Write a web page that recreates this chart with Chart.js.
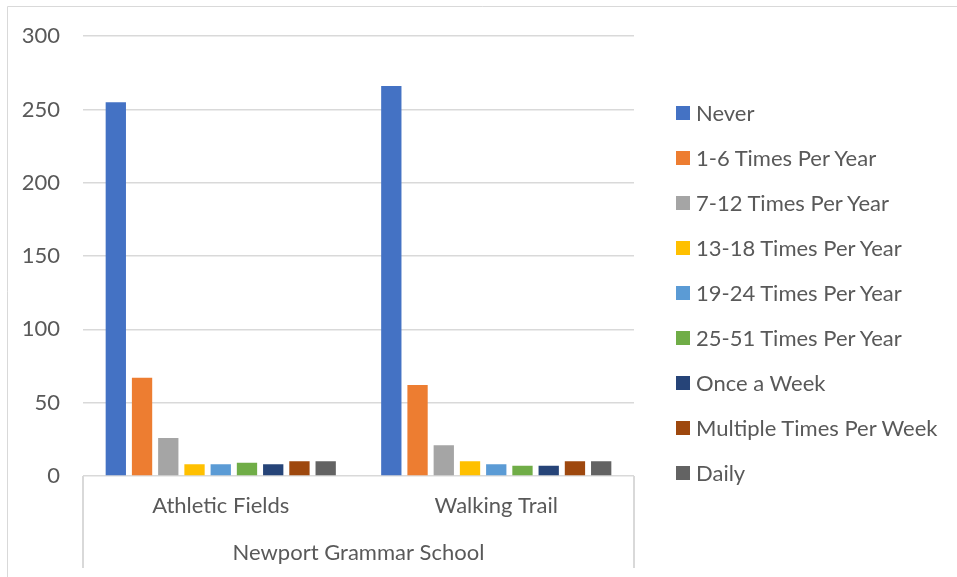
<!DOCTYPE html>
<html>
<head>
<meta charset="utf-8">
<script src="https://cdn.jsdelivr.net/npm/chart.js@4.4.1/dist/chart.umd.min.js"></script>
<style>
  html, body { margin: 0; padding: 0; background: #fff; }
  #wrap { width: 957px; height: 577px; position: relative; }
  #leyenda { position: absolute; left: 676px; top: 101px; margin: 0; padding: 0; list-style: none;
             font-family: Lato, sans-serif; font-size: 22px; color: #595959; }
  #leyenda li { display: flex; align-items: center; height: 24px; line-height: 24px; margin-bottom: 21px; white-space: nowrap; }
  #leyenda span { display: inline-block; width: 14px; height: 14px; margin-right: 6px; }
</style>
</head>
<body>
<div id="wrap"><canvas id="chart"></canvas><ul id="leyenda"></ul></div>
<script>
// Datos de la encuesta
const categorias = ['Athletic Fields', 'Walking Trail'];
const grupo = 'Newport Grammar School';
const frecuencias = ['Never', '1-6 Times Per Year', '7-12 Times Per Year', '13-18 Times Per Year',
    '19-24 Times Per Year', '25-51 Times Per Year', 'Once a Week', 'Multiple Times Per Week', 'Daily'];
const athleticFields = [255, 67, 26, 8, 8, 9, 8, 10, 10];
const walkingTrail = [266, 62, 21, 10, 8, 7, 7, 10, 10];
const yTicks = [0, 50, 100, 150, 200, 250, 300];
const colores = ['#4472C4', '#ED7D31', '#A5A5A5', '#FFC000', '#5B9BD5', '#70AD47', '#264478', '#9E480E', '#636363'];

const fuente = { family: 'Lato', size: 22 };
const gris = '#595959';

// Marco exterior y caja del eje de categorías
const marco = {
    id: 'marco',
    beforeDraw(chart) {
        const c = chart.ctx;
        c.save();
        c.strokeStyle = '#d9d9d9';
        c.lineWidth = 1;
        c.beginPath();
        c.moveTo(7.5, chart.height);
        c.lineTo(7.5, 6.5);
        c.lineTo(chart.width, 6.5);
        c.stroke();
        c.restore();
    },
    afterDraw(chart) {
        const x = chart.scales.x, a = chart.chartArea;
        const c = chart.ctx;
        c.save();
        c.strokeStyle = '#d9d9d9';
        c.lineWidth = 2;
        c.beginPath();
        c.moveTo(a.left, a.bottom);
        c.lineTo(a.left, x.bottom);
        c.moveTo(a.right, a.bottom);
        c.lineTo(a.right, x.bottom);
        c.stroke();
        c.restore();
    }
};

// Leyenda en HTML a partir de los items de Chart.js
const leyendaHtml = {
    id: 'leyendaHtml',
    afterUpdate(chart) {
        const ul = document.getElementById('leyenda');
        ul.innerHTML = '';
        const items = chart.options.plugins.legend.labels.generateLabels(chart);
        items.forEach(item => {
            const li = document.createElement('li');
            const box = document.createElement('span');
            box.style.background = item.fillStyle;
            li.appendChild(box);
            li.appendChild(document.createTextNode(item.text));
            ul.appendChild(li);
        });
    }
};

const ctx = document.getElementById('chart').getContext('2d');
const myChart = new Chart(ctx, {
    type: 'bar',
    data: {
        labels: categorias,
        datasets: frecuencias.map((f, i) => ({
            label: f,
            data: [athleticFields[i], walkingTrail[i]],
            backgroundColor: colores[i],
            borderWidth: 0,
            categoryPercentage: 0.857,
            barPercentage: 0.774
        }))
    },
    options: {
        responsive: true,
        maintainAspectRatio: false,
        animation: false,
        layout: { padding: { top: 35, right: 323, bottom: 9, left: 0 } },
        plugins: {
            legend: { display: false },
            tooltip: { enabled: false }
        },
        scales: {
            x: {
                grid: { display: false, drawTicks: false },
                border: { display: false },
                ticks: { color: gris, font: fuente, padding: 17 },
                title: { display: true, text: grupo, color: gris, font: fuente, padding: { top: 4, bottom: 2 } },
                afterFit: s => { s.height = 92; }
            },
            y: {
                min: 0,
                max: 300,
                afterBuildTicks: s => { s.ticks = yTicks.map(v => ({ value: v })); },
                grid: { color: '#d9d9d9', lineWidth: 1.5, drawTicks: false },
                border: { display: false },
                ticks: { color: gris, font: fuente, padding: 23 },
                afterFit: s => { s.width = 83; }
            }
        }
    },
    plugins: [marco, leyendaHtml]
});
</script>
</body>
</html>
